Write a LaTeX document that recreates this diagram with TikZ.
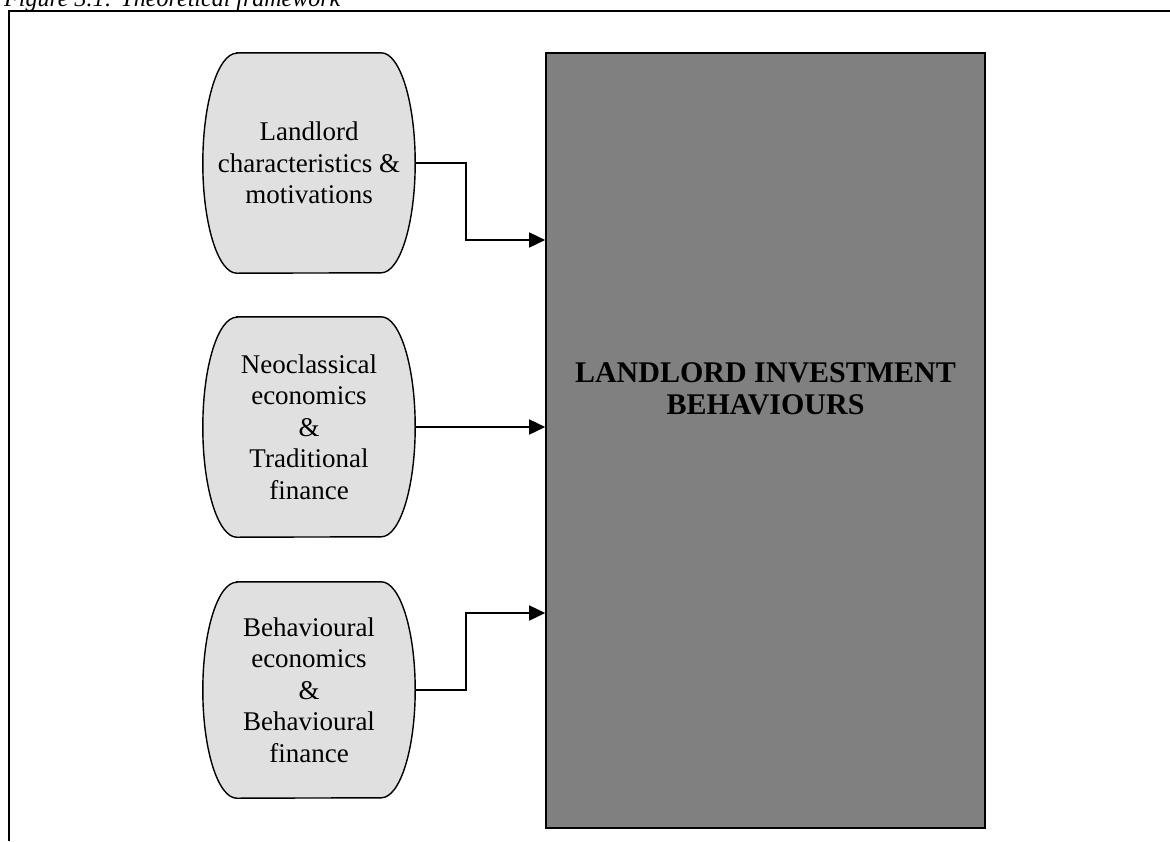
\documentclass[tikz,border=0pt]{standalone}
\usepackage{fontspec}
\setmainfont{Liberation Serif}
\usetikzlibrary{arrows.meta,backgrounds}

\begin{document}
\begin{tikzpicture}[x=1pt,y=-1pt,
   factor/.style={minimum width=212pt,inner sep=0pt,align=center,font=\fontsize{27}{31.5}\selectfont},
   pill/.style={draw=black,fill=black!12,line width=1.4pt},
   target/.style={draw=black,fill=black!50,line width=1.6pt,inner sep=0pt,minimum width=439pt,minimum height=775pt},
   heading/.style={align=center,inner sep=0pt,font=\bfseries\fontsize{30}{32}\selectfont},
   link/.style={-{Triangle[length=16pt,width=15pt]},line width=1.6pt},
   frame/.style={line width=2.4pt}]
\useasboundingbox (0,0) rectangle (1170,841);
\node[anchor=base west,inner sep=0pt,font=\itshape\fontsize{24}{28}\selectfont] (cap) at (4,6) {Figure 3.1: Theoretical framework};
\draw[frame] (9,841) -- (9,11) -- (1170,11);
\node[target] (lib) at (765.5,440.5) {};
\node[heading] (libtext) at (765.5,389) {LANDLORD INVESTMENT\\BEHAVIOURS};
\node[factor,minimum height=220pt] (lc) at (309,163) {Landlord\\characteristics \&\\motivations};
\node[factor,minimum height=220pt] (nt) at (309,427) {Neoclassical\\economics\\\&\\Traditional\\finance};
\node[factor,minimum height=216pt] (bf) at (309,690) {Behavioural\\economics\\\&\\Behavioural\\finance};
\begin{scope}[on background layer]
\foreach \n/\r in {lc/110,nt/110,bf/108}
  \draw[pill] ([xshift=34pt]\n.north west) -- ([xshift=-34pt]\n.north east)
     arc[start angle=90,end angle=-90,x radius=34pt,y radius=\r pt]
     -- ([xshift=34pt]\n.south west)
     arc[start angle=270,end angle=90,x radius=34pt,y radius=\r pt] -- cycle;
\end{scope}
\draw[link] (lc.east) -- ++(51,0) |- ([yshift=200.5pt]lib.west);
\draw[link] (nt.east) -- (nt.east -| lib.west);
\draw[link] (bf.east) -- ++(51,0) |- ([yshift=-172.5pt]lib.west);
\end{tikzpicture}
\end{document}
